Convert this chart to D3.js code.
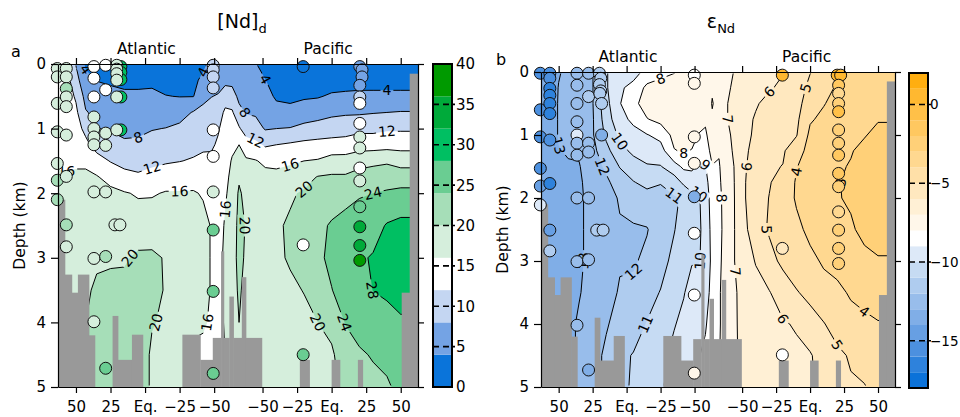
<!DOCTYPE html>
<html>
<head>
<meta charset="utf-8">
<script src="https://cdn.jsdelivr.net/npm/d3@7"></script>
<style>
  body { margin: 0; background: #fff; }
  svg { font-family: "DejaVu Sans", sans-serif; }
</style>
</head>
<body>
<div id="main"></div>
<script>
// section coordinate t: Atlantic lat L -> -L, Southern Ocean turn at 67.5, Pacific lat L -> 135 + L
const tickT = [-50, -25, 0, 25, 50, 85, 110, 135, 160, 185];
const tickLabels = ["50", "25", "Eq.", "\u221225", "\u221250", "\u221250", "\u221225", "Eq.", "25", "50"];
const depthTicks = [0, 1, 2, 3, 4, 5];
const regionNames = ["Atlantic", "Pacific"];
const regionT = [1, 132.5];

const gridT = [-63, -57, -50, -43, -35, -25, -15, -5, 5, 15, 25, 35, 42, 48, 53, 58, 63, 68, 73, 80, 87, 95,
  105, 115, 125, 135, 145, 155, 165, 175, 185, 192, 197.5];
const gridDepth = [0, 0.25, 0.5, 0.75, 1, 1.25, 1.5, 1.75, 2, 2.5, 3, 3.5, 4, 4.5, 5];

// [Nd]d profiles, one per gridT column (values at gridDepth)
const ndColumns = [
  [14, 14, 14, 14, 14.5, 15, 15.5, 16.5, 17, 17.5, 18, 18, 18, 18, 18],
  [13, 13.5, 14, 14, 14.5, 15, 15.5, 16.3, 17, 18, 18.5, 19, 19, 19, 19],
  [7.8, 9.5, 11.5, 12.8, 13.5, 14.5, 15.5, 16.5, 17, 18, 18.5, 19, 19, 19, 19],
  [3.5, 5, 6.8, 8.3, 11, 13, 15.5, 16.5, 17, 18, 18.5, 19.5, 20, 20.5, 21],
  [2.5, 3.9, 5.5, 7, 8.1, 10.5, 13.5, 16.3, 17, 18, 19.5, 20.5, 21, 21, 21],
  [2, 3.5, 5, 6.5, 7.7, 9.5, 11.8, 14.6, 17, 18.3, 19.5, 21, 21.5, 21.5, 21.5],
  [2, 3.2, 4.6, 6, 7.2, 8.5, 11, 13, 16.3, 18.5, 19.6, 21, 22, 22, 22],
  [2, 3.2, 4.6, 6, 7.3, 8.6, 10.8, 12.5, 15.6, 18, 20.6, 21.5, 22, 22, 22],
  [2, 3.2, 4.8, 6.5, 7.8, 9.5, 11.3, 13, 15.6, 18.5, 20.5, 20.8, 20.2, 19.5, 19.5],
  [2, 2.8, 4.1, 6, 8.1, 10, 11.6, 13.8, 16.3, 18.5, 19.8, 19.8, 19.5, 19, 19],
  [2, 2.8, 3.9, 6.5, 8.8, 10.6, 11.9, 14, 16.3, 18, 18.5, 18.5, 18.5, 18, 18],
  [2, 3, 3.9, 8.3, 10, 11, 12.3, 14.5, 16.3, 17.5, 17.5, 17.5, 17, 15, 15],
  [3, 5, 7.2, 8.8, 10.5, 11.5, 12.6, 14.5, 15.7, 17, 17, 17, 16.5, 15, 15],
  [5.5, 6.5, 7.9, 9.5, 10.5, 11.5, 12.7, 14, 15, 15.8, 15.8, 15.8, 15.5, 14.5, 14.5],
  [5.5, 6.5, 8.3, 10, 11.7, 12.5, 13.5, 14, 14, 14, 14.5, 14.5, 14.5, 14, 14],
  [5.5, 7, 10, 12.8, 13.5, 14, 14.5, 15, 15.5, 16.5, 17, 17, 16.5, 16, 16],
  [5.5, 7, 9.5, 12.5, 14, 15.2, 16.3, 17, 17.5, 18, 18.5, 18.5, 18, 18, 18],
  [5, 6, 7.2, 9, 12.5, 16, 18, 19.5, 20.5, 21, 21, 20.5, 20, 19, 19],
  [5, 5.8, 6.8, 7.8, 10, 14, 16.5, 18, 19, 19.8, 19.5, 19, 18.5, 18, 18],
  [4.2, 5, 6.3, 7.5, 9.5, 13, 16.2, 17.5, 18, 18.5, 18.5, 18.5, 18, 18, 18],
  [2.5, 4.1, 5.5, 6.8, 7.7, 11.5, 15.3, 17, 17.5, 18, 18.5, 18.5, 18.5, 18.5, 18.5],
  [1.5, 2.2, 3.4, 5.5, 8, 12, 15, 17, 18, 19.5, 19.5, 19, 18.7, 18.5, 18.5],
  [1.5, 2, 3.2, 5, 8.2, 12.5, 15.5, 17.5, 19.5, 20.5, 20.3, 19.5, 19, 18.5, 18.5],
  [1.5, 2, 3.5, 6, 9, 13, 16, 18.5, 20.5, 22, 21.5, 20.1, 19.3, 18.8, 18.5],
  [1.5, 2, 3.7, 6.5, 9.5, 13.3, 16.3, 20.2, 21.5, 23.3, 23.3, 21.5, 20, 19, 18.5],
  [1.5, 2.2, 4.5, 7.2, 10, 13.5, 17.5, 20.5, 22.5, 24.3, 24.8, 23.9, 21, 19.5, 19],
  [1.5, 2.2, 4.8, 7.5, 10.3, 13.7, 17.5, 20.5, 23, 25, 26, 25.5, 24.2, 22, 21],
  [1.5, 2.3, 5, 7.5, 11, 14.3, 18.5, 21.5, 23.5, 26.5, 27.5, 27, 25.5, 23.5, 22],
  [1.5, 2.3, 5, 7.8, 11, 14.3, 19, 22, 24, 26.5, 28.3, 28.05, 26.5, 24.3, 23],
  [1.5, 2.3, 5, 8, 11.5, 14.5, 19.5, 22, 24.5, 28.3, 29.5, 28.5, 27, 25, 23.5],
  [1.5, 2.3, 5, 8.2, 11.5, 14.5, 18.5, 22, 25, 29, 30, 29.5, 27.5, 26, 25],
  [1.5, 2.3, 5, 8.2, 11.5, 14.5, 18.5, 22, 25, 29, 30, 29.5, 27.5, 26, 25],
  [1.5, 2.3, 5, 8.2, 11.5, 14.5, 18.5, 22, 25, 29, 30, 29.5, 27.5, 26, 25]
];

// eNd profiles, one per gridT column
const endColumns = [
  [-13.5, -14, -14, -14, -14, -14, -13.8, -13.5, -13.5, -13.5, -13.5, -13.5, -13.5, -13.5, -13.5],
  [-13.5, -13.8, -13.8, -13.8, -13.8, -13.8, -13.6, -13.5, -13.5, -13.4, -13.4, -13.4, -13.4, -13.4, -13.4],
  [-13.1, -12.95, -12.9, -12.9, -12.9, -13.05, -13.1, -13.2, -13.3, -13.4, -13.4, -13.4, -13.4, -13.4, -13.4],
  [-12.7, -12.7, -12.6, -12.6, -12.7, -12.9, -13.1, -13.2, -13.3, -13.3, -13.3, -13.3, -13.2, -13.2, -13.2],
  [-12.5, -12.4, -12.3, -12.3, -12.5, -12.9, -13.05, -13.1, -13.1, -13.1, -13.1, -13.05, -12.9, -12.9, -12.9],
  [-12.05, -12.05, -12.05, -12.1, -12.1, -12.3, -12.5, -12.7, -12.8, -12.8, -12.8, -12.7, -12.5, -12.4, -12.4],
  [-10.05, -10.1, -10.3, -10.5, -10.8, -11.3, -11.8, -12.2, -12.4, -12.5, -12.5, -12.4, -12.1, -11.8, -11.8],
  [-9.6, -9.2, -9.05, -9.3, -9.8, -10.3, -10.95, -11.5, -11.9, -12.1, -12.1, -11.9, -11.6, -11.2, -11.2],
  [-9.5, -8.6, -8.3, -8.8, -9.3, -9.8, -10.4, -11.05, -11.6, -12.1, -12.1, -11.8, -11.4, -10.95, -10.9],
  [-8.6, -7.8, -7.5, -8.05, -9.05, -9.5, -10.1, -10.7, -11.4, -12.05, -11.8, -11.4, -10.95, -10.6, -10.5],
  [-8.3, -7.6, -7.4, -7.7, -8.7, -9.4, -10.05, -10.95, -11.3, -11.5, -11.4, -10.95, -10.6, -10.2, -10.1],
  [-8.05, -7.5, -7.3, -7.4, -7.7, -8.05, -9.4, -10.5, -11.1, -11.05, -10.7, -10.3, -10.05, -9.8, -9.7],
  [-7.8, -7.3, -7.2, -7.3, -7.5, -7.9, -8.8, -9.8, -10.9, -10.5, -10.3, -10.05, -9.8, -9.5, -9.5],
  [-7.8, -7.4, -7.3, -7.4, -7.6, -8.05, -8.8, -9.5, -10.3, -10.2, -10.05, -9.7, -9.5, -9.2, -9.2],
  [-7.7, -7.4, -7.4, -7.6, -8.05, -8.6, -9.2, -9.7, -10.1, -10.1, -10.05, -9.6, -9.3, -9.05, -9.05],
  [-7.6, -7.4, -7.5, -7.8, -8.2, -8.6, -9.05, -9.4, -9.6, -9.8, -9.8, -9.5, -9.1, -8.8, -8.8],
  [-7.4, -7.1, -6.95, -7.1, -7.3, -7.6, -8.05, -8.3, -8.5, -8.6, -8.7, -8.6, -8.5, -8.4, -8.4],
  [-7.3, -7.2, -7.3, -7.5, -7.7, -7.9, -8.1, -8.2, -8.3, -8.3, -8.2, -8.1, -8.1, -8.05, -8.05],
  [-7.2, -7.1, -7.05, -7.05, -7.1, -7.2, -7.3, -7.4, -7.5, -7.6, -7.6, -7.6, -7.6, -7.6, -7.6],
  [-6.95, -6.9, -6.8, -6.8, -6.9, -6.9, -6.95, -6.95, -6.95, -6.95, -6.95, -7.1, -7.1, -7.1, -7.1],
  [-6.7, -6.5, -6.4, -6.3, -6.3, -6.2, -6.1, -6.05, -6.05, -6.2, -6.4, -6.5, -6.6, -6.7, -6.7],
  [-6.05, -6.3, -6.1, -5.9, -5.8, -5.6, -5.5, -5.4, -5.35, -5.4, -5.95, -6.3, -6.5, -6.6, -6.6],
  [-6.3, -6.1, -5.7, -5.5, -5.3, -5.2, -5.1, -5.05, -4.98, -4.9, -5.3, -6.05, -6.3, -6.4, -6.4],
  [-6.05, -5.8, -5.6, -5.4, -5.2, -5.1, -4.98, -4.7, -4.5, -4.5, -4.8, -5.5, -6.1, -6.3, -6.3],
  [-5.8, -5.6, -5.4, -5.2, -5.05, -4.5, -4.05, -3.9, -3.9, -4.2, -4.6, -5.05, -5.9, -6.2, -6.2],
  [-5.05, -4.7, -4.4, -4.1, -3.8, -3.6, -3.5, -3.5, -3.55, -3.8, -4.2, -4.8, -5.3, -6.1, -6.2],
  [-4.5, -4.3, -4.05, -3.8, -3.6, -3.4, -3.3, -3.25, -3.3, -3.5, -3.9, -4.3, -5.05, -5.5, -5.6],
  [-4.05, -3.9, -3.7, -3.5, -3.35, -3.2, -3.1, -3.05, -3.05, -3.3, -3.7, -4.2, -4.6, -5.2, -5.3],
  [-3.8, -3.7, -3.5, -3.3, -3.2, -3.05, -2.95, -2.85, -2.9, -3.1, -3.5, -3.9, -4.3, -4.9, -5.1],
  [-3.7, -3.6, -3.4, -3.2, -3.05, -2.8, -2.6, -2.5, -2.5, -2.8, -3.2, -3.7, -4.2, -4.6, -5.05],
  [-3.6, -3.4, -3.2, -3.05, -2.8, -2.5, -2.3, -2.2, -2.2, -2.5, -3.1, -3.6, -4.05, -4.4, -4.7],
  [-3.6, -3.4, -3.2, -3.05, -2.8, -2.5, -2.3, -2.2, -2.2, -2.5, -3.1, -3.6, -4.05, -4.4, -4.7],
  [-3.6, -3.4, -3.2, -3.05, -2.8, -2.5, -2.3, -2.2, -2.2, -2.5, -3.1, -3.6, -4.05, -4.4, -4.7]
];

// sea floor: bins between bathyEdges, floor depth (km)
const bathyEdges = [-63, -58, -53, -48.6, -40.6, -36.3, -23.5, -19.6, -9.5, -1.6, 27, 40, 49, 55, 57, 61, 64,
  70, 73, 84.5, 112, 119, 135, 141, 154, 157.5, 185.7, 191.5, 197.5];
const bathyDepth = [2.1, 3.26, 3.54, 3.26, 4.2, 5, 3.9, 4.58, 4.19, 5, 4.19, 4.58, 4.24, 2.9, 4.24, 3.6, 4.24,
  3.3, 4.24, 5, 4.58, 5, 4.58, 5, 4.58, 5, 3.54, 0.15];

const ndLevels = [0, 4, 8, 12, 16, 20, 24, 28, 32, 36];
const ndColors = ["#0a74da", "#74a3e4", "#c4d6f2", "#ffffff", "#d5eedc", "#a6deb8", "#6acd92", "#00bf62", "#00aa3a", "#009a00"];
const ndLines = [4, 8, 12, 16, 20, 24, 28];
const ndBarTicks = [0, 5, 10, 15, 20, 25, 30, 35, 40];

const endLevels = [-18, -17, -16, -15, -14, -13, -12, -11, -10, -9, -8, -7, -6, -5, -4, -3, -2, -1, 0, 1];
const endColors = ["#0b72d9", "#2e82dc", "#4c90df", "#679fe3", "#80aee7", "#98bdeb", "#afccef", "#c6dbf3", "#dde9f8",
  "#ffffff", "#fff7ea", "#fff0d5", "#ffe8bf", "#ffe0a8", "#ffd890", "#ffd078", "#ffc860", "#ffc048", "#ffb830", "#ffae10"];
const endLines = [-13, -12, -11, -10, -9, -8, -7, -6, -5, -4, -3];
const endBarTicks = [0, -5, -10, -15];

// stations: [t, depth km, value]
const ndPoints = [
  [-63.5, 0.07, 18], [-63.5, 0.2, 18], [-63.5, 0.61, 18], [-63.5, 1.05, 18], [-63.5, 1.54, 18], [-63.5, 1.8, 22], [-63.5, 2.1, 22],
  [-57, 0.07, 18], [-57, 0.2, 18], [-57, 0.38, 22], [-57, 0.51, 18], [-57, 0.66, 18], [-57, 1.1, 18], [-57, 1.74, 18], [-57, 2.49, 22], [-57, 2.83, 18],
  [-37, 0.04, 14], [-37, 0.22, 14], [-37, 0.51, 14], [-37, 0.82, 18], [-37, 1.0, 18], [-37, 1.13, 18], [-37, 1.25, 18], [-37, 1.98, 18], [-37, 3.01, 18], [-37, 3.99, 18],
  [-28.5, 0.02, 14], [-28.5, 0.4, 14], [-28.5, 1.07, 18], [-28.5, 1.26, 18], [-28.5, 1.98, 18], [-28.5, 2.98, 22], [-28.5, 4.71, 26],
  [-17.5, 0.04, 31], [-17.5, 0.13, 31], [-17.5, 0.24, 31], [-17.5, 0.51, 31], [-17.5, 1.02, 31],
  [-20.5, 0.02, 18], [-20.5, 0.08, 18], [-20.5, 0.15, 18], [-20.5, 0.25, 18], [-20.5, 0.51, 18], [-20.5, 1.02, 18],
  [-21.8, 2.49, 18], [-18.2, 2.49, 18],
  [49.3, 0.02, 10], [49.3, 0.09, 10], [49.3, 0.2, 10], [49.3, 0.37, 10], [49.3, 1.02, 14], [49.3, 1.43, 14], [49.3, 1.98, 18], [49.3, 2.57, 26], [49.3, 3.52, 26], [49.3, 4.79, 26],
  [114.4, 0.04, 2], [114.4, 2.8, 14], [114.4, 4.5, 26],
  [155.4, 0.04, 6], [157, 0.09, 6], [157, 0.2, 6], [155.4, 0.33, 6], [155.4, 0.51, 10], [155.4, 0.61, 14], [155.4, 0.92, 14], [155.4, 1.13, 18],
  [155.4, 1.3, 18], [155.4, 1.61, 14], [155.4, 1.81, 18], [155.4, 2.21, 26], [155.4, 2.52, 34], [155.4, 2.81, 34], [155.4, 3.04, 38]
];
const endPoints = [
  [-63.5, 0.02, -15.5], [-63.5, 0.6, -15.5], [-63.5, 1.03, -15.5], [-63.5, 1.53, -15.5], [-63.5, 1.81, -14.5], [-63.5, 2.11, -9.5],
  [-56.5, 0.02, -15.5], [-56.5, 0.1, -15.5], [-56.5, 0.26, -16.5], [-56.5, 0.37, -16.5], [-56.5, 0.5, -16.5], [-56.5, 0.66, -16.5],
  [-56.5, 1.08, -15.5], [-56.5, 1.77, -16.5], [-56.5, 2.51, -14.5], [-56.5, 2.84, -11.5],
  [-36.5, 0.02, -12.5], [-36.5, 0.21, -12.5], [-36.5, 0.5, -12.5], [-36.5, 0.79, -12.5], [-36.5, 1.0, -9.5], [-36.5, 1.13, -12.5],
  [-36.5, 1.32, -12.5], [-36.5, 2.0, -12.5], [-36.5, 3.01, -12.5], [-36.5, 4.02, -12.5],
  [-28, 0.02, -12.5], [-28, 0.39, -11.5], [-28, 1.13, -12.5], [-28, 1.27, -12.5], [-28, 2.0, -12.5], [-28, 2.98, -12.5], [-28, 4.73, -13.5],
  [-20, 0.02, -11.5], [-19, 0.1, -11.5], [-20, 0.2, -11.5], [-19, 0.3, -11.5], [-19.7, 0.34, -11.5], [-18.4, 0.5, -11.5], [-18.4, 1.0, -13.5],
  [-22, 2.51, -11.5], [-17.3, 2.51, -11.5],
  [49.8, 0.05, -8.5], [49.8, 0.18, -7.5], [49.8, 1.03, -7.5], [49.8, 1.45, -7.5], [49.8, 1.98, -13.5], [49.8, 2.56, -8.5], [49.8, 3.54, -8.5], [49.8, 4.78, -7.5],
  [114.6, 0.05, 0.5], [114.6, 2.8, -5.5], [114.6, 4.49, -8.5],
  [155, 0.05, 0.5], [157.5, 0.05, 0.5], [156, 0.21, -1.5], [156, 0.34, -3.5], [156, 0.5, -2.5], [156, 0.63, -0.5], [156, 0.92, -2.5],
  [156, 1.13, -2.5], [156, 1.32, -1.5], [156, 1.61, -1.5], [156, 1.82, -2.5], [156, 2.22, -3.5], [156, 2.51, -2.5], [156, 2.8, -2.5], [156, 3.04, -2.5]
];

// contour label anchors: [level, t, depth]
const ndLabels = [
  [4, -43.5, 0.12], [4, 43.3, 0.12], [4, 84.5, 0.22], [4, 173.4, 0.4],
  [8, -2.3, 1.13], [8, 70, 0.74],
  [12, 5, 1.64], [12, 80.9, 1.2], [12, 174.9, 1.07],
  [16, -56.5, 1.67], [16, 29.5, 1.93], [16, 57.7, 2.26], [16, 107, 1.53], [16, 45.4, 4.07],
  [20, -12.4, 3.0], [20, 8.6, 4.0], [20, 70, 2.37], [20, 114.1, 1.92], [20, 124.3, 3.96],
  [24, 169.8, 2.0], [24, 139.4, 3.78],
  [28, 166.2, 3.42]
];
const endLabels = [
  [-13, -51.5, 1.24], [-13, -30.8, 3.19],
  [-12, -21.2, 1.44], [-12, 7.6, 3.22],
  [-11, 34.3, 1.92], [-11, 15, 4.13],
  [-10, -4.9, 1.13], [-10, 63, 1.84], [-10, 59.4, 3.03],
  [-9, 55.7, 1.48],
  [-8, 30.6, 0.37], [-8, 39.4, 1.29], [-8, 70.5, 2.08],
  [-7, 67.5, 0.81], [-7, 72.7, 3.14],
  [-6, 98.6, 0.33], [-6, 89, 1.4], [-6, 113.3, 3.75],
  [-5, 137.7, 0.4], [-5, 100.8, 2.4], [-5, 157.7, 4.37],
  [-4, 122.2, 1.56], [-4, 172.5, 3.73],
  [-3, 159.9, 1.83]
];

const svg = d3.select("#main").append("svg").attr("width", 960).attr("height", 417);
const defs = svg.append("defs");
const clamp = (v, a, b) => Math.max(a, Math.min(b, v));

function drawPanel(c) {
  const g = svg.append("g");
  const x = d3.scaleLinear().domain([gridT[0], gridT[gridT.length - 1]]).range([c.left, c.right]);
  const y = d3.scaleLinear().domain([0, 5]).range([c.top, c.bottom]);
  const n = gridT.length, m = gridDepth.length;
  const values = new Array(n * m);
  for (let i = 0; i < n; i++) for (let j = 0; j < m; j++) values[j * n + i] = c.columns[i][j];

  const iT = d3.scaleLinear().domain(d3.range(n)).range(gridT);
  const iD = d3.scaleLinear().domain(d3.range(m)).range(gridDepth);
  const toPx = p => [x(iT(clamp(p[0] - 0.5, 0, n - 1))), y(iD(clamp(p[1] - 0.5, 0, m - 1)))];
  const path = d3.geoPath(d3.geoTransform({
    point(px, py) { const p = toPx([px, py]); this.stream.point(p[0], p[1]); }
  }));
  const contour = d3.contours().size([n, m]);

  defs.append("clipPath").attr("id", "clip-" + c.id).append("rect")
    .attr("x", c.left).attr("y", c.top).attr("width", c.right - c.left).attr("height", c.bottom - c.top);
  defs.append("clipPath").attr("id", "clipin-" + c.id).append("rect")
    .attr("x", c.left + 1.5).attr("y", c.top + 1.5).attr("width", c.right - c.left - 3).attr("height", c.bottom - c.top - 3);
  const mask = defs.append("mask").attr("id", "mask-" + c.id).attr("maskUnits", "userSpaceOnUse")
    .attr("x", 0).attr("y", 0).attr("width", 960).attr("height", 417);
  mask.append("rect").attr("width", 960).attr("height", 417).attr("fill", "white");

  // filled bands
  g.append("g").attr("clip-path", `url(#clip-${c.id})`)
    .selectAll("path").data(contour.thresholds(c.levels)(values)).join("path")
    .attr("d", path).attr("fill", (d, i) => c.colors[i]);

  // contour lines
  const lineData = contour.thresholds(c.lines)(values);
  g.append("g").attr("clip-path", `url(#clipin-${c.id})`)
    .append("g").attr("mask", `url(#mask-${c.id})`)
    .selectAll("path").data(lineData).join("path")
    .attr("d", path).attr("fill", "none").attr("stroke", "#000").attr("stroke-width", 1);

  // labels snapped onto the line nearest to each anchor
  const onEdge = p => p[0] < c.left + 2 || p[0] > c.right - 2 || p[1] < c.top + 2 || p[1] > c.bottom - 2;
  const labelG = g.append("g");
  c.labels.forEach(([level, t, dep]) => {
    const geo = lineData.find(d => d.value === level);
    if (!geo) return;
    const target = [x(t), y(dep)];
    let best = null;
    geo.coordinates.forEach(poly => poly.forEach(ring => {
      const pts = ring.map(toPx);
      pts.forEach((p, k) => {
        if (onEdge(p)) return;
        const dist = Math.hypot(p[0] - target[0], p[1] - target[1]);
        if (!best || dist < best.dist) {
          const prev = pts[k > 0 ? k - 1 : pts.length - 2];
          const next = pts[k < pts.length - 1 ? k + 1 : 1];
          best = { dist, p, prev, next };
        }
      });
    }));
    if (!best || best.dist > 30) return;
    let ang = Math.atan2(best.next[1] - best.prev[1], best.next[0] - best.prev[0]) * 180 / Math.PI;
    if (ang > 90) ang -= 180;
    if (ang < -90) ang += 180;
    const tr = `translate(${best.p[0]},${best.p[1]}) rotate(${ang})`;
    const txt = labelG.append("text").attr("transform", tr)
      .attr("text-anchor", "middle").attr("dy", "0.36em").attr("font-size", 14)
      .text(Math.abs(level));
    const w = txt.node().getComputedTextLength() + 4;
    mask.append("rect").attr("transform", tr).attr("x", -w / 2).attr("y", -7).attr("width", w).attr("height", 14).attr("fill", "black");
  });

  // sea floor
  g.append("g").attr("clip-path", `url(#clip-${c.id})`)
    .selectAll("rect").data(bathyDepth).join("rect")
    .attr("x", (d, i) => x(bathyEdges[i]))
    .attr("width", (d, i) => x(bathyEdges[i + 1]) - x(bathyEdges[i]) + 0.4)
    .attr("y", d => y(d)).attr("height", d => y(5) - y(d))
    .attr("fill", "#999");

  // stations
  const color = d3.scaleThreshold().domain(c.levels.slice(1)).range(c.colors);
  g.append("g").selectAll("circle").data(c.points).join("circle")
    .attr("cx", d => x(d[0])).attr("cy", d => y(d[1])).attr("r", 6)
    .attr("fill", d => color(d[2])).attr("stroke", "#111").attr("stroke-width", 1);

  // axes
  const style = s => s.attr("font-size", 15).attr("font-family", null)
    .call(s => s.select(".domain").attr("stroke-width", 1.2))
    .call(s => s.selectAll(".tick line").attr("stroke-width", 1.2));
  g.append("g").attr("transform", `translate(${c.left},0)`)
    .call(d3.axisLeft(y).tickValues(depthTicks).tickFormat(d3.format("d")).tickSize(7).tickPadding(5).tickSizeOuter(0)).call(style);
  g.append("g").attr("transform", `translate(${c.right},0)`)
    .call(d3.axisRight(y).tickValues(depthTicks).tickFormat("").tickSize(6).tickSizeOuter(0)).call(style);
  g.append("g").attr("transform", `translate(0,${c.bottom})`)
    .call(d3.axisBottom(x).tickValues(tickT).tickFormat((d, i) => tickLabels[i]).tickSize(6).tickPadding(8).tickSizeOuter(0)).call(style);
  g.append("g").attr("transform", `translate(0,${c.top})`)
    .call(d3.axisTop(x).tickValues(tickT).tickFormat("").tickSize(6).tickSizeOuter(0)).call(style);

  g.append("text").attr("transform", `translate(${c.left - 33},${(c.top + c.bottom) / 2}) rotate(-90)`)
    .attr("text-anchor", "middle").attr("font-size", 15.5).text("Depth (km)");
  g.selectAll(".region").data(regionNames).join("text")
    .attr("x", (d, i) => x(regionT[i])).attr("y", c.top - 10)
    .attr("text-anchor", "middle").attr("font-size", 15.5).text(d => d);
  g.append("text").attr("x", c.letterX).attr("y", c.top - 7).attr("font-size", 16).text(c.letter);
  const title = g.append("text").attr("x", c.titleX).attr("y", 28).attr("text-anchor", "middle");
  title.append("tspan").attr("font-size", 19).text(c.title[0]);
  title.append("tspan").attr("font-size", 13).attr("dy", 5).text(c.title[1]);

  // colour bar
  const b = c.bar;
  const cy = d3.scaleLinear().domain(b.domain).range([b.bottom, b.top]);
  const bar = g.append("g");
  bar.selectAll("rect").data(c.levels).join("rect")
    .attr("x", b.x).attr("width", b.w)
    .attr("y", (d, i) => cy(i < c.levels.length - 1 ? c.levels[i + 1] : b.domain[1]))
    .attr("height", (d, i) => cy(d) - cy(i < c.levels.length - 1 ? c.levels[i + 1] : b.domain[1]))
    .attr("fill", (d, i) => c.colors[i]);
  bar.selectAll("line").data(b.ticks.filter(v => v > b.domain[0] && v < b.domain[1])).join("line")
    .attr("x1", b.x).attr("x2", b.x + b.w + 3).attr("y1", d => cy(d)).attr("y2", d => cy(d))
    .attr("stroke", "#000").attr("stroke-width", 1.6).attr("stroke-dasharray", "6,4");
  bar.append("rect").attr("x", b.x).attr("y", b.top).attr("width", b.w).attr("height", b.bottom - b.top)
    .attr("fill", "none").attr("stroke", "#000").attr("stroke-width", 2);
  bar.selectAll("text").data(b.ticks).join("text")
    .attr("x", b.x + b.w + b.gap).attr("y", d => cy(d)).attr("dy", "0.36em").attr("font-size", b.fontSize)
    .text(d => d < 0 ? "\u2212" + Math.abs(d) : d);
}

drawPanel({
  id: "a", left: 58, right: 418, top: 64, bottom: 387, letter: "a", letterX: 11, titleX: 242,
  title: ["[Nd]", "d"], columns: ndColumns, levels: ndLevels, colors: ndColors, lines: ndLines,
  labels: ndLabels, points: ndPoints,
  bar: { x: 433, w: 19, top: 64, bottom: 387, domain: [0, 40], ticks: ndBarTicks, gap: 4, fontSize: 15 }
});
drawPanel({
  id: "b", left: 541, right: 895, top: 72, bottom: 387, letter: "b", letterX: 496, titleX: 721,
  title: ["\u03b5", "Nd"], columns: endColumns, levels: endLevels, colors: endColors, lines: endLines,
  labels: endLabels, points: endPoints,
  bar: { x: 909, w: 19, top: 73, bottom: 388, domain: [-18, 2], ticks: endBarTicks, gap: 2, fontSize: 13.5 }
});
</script>
</body>
</html>
